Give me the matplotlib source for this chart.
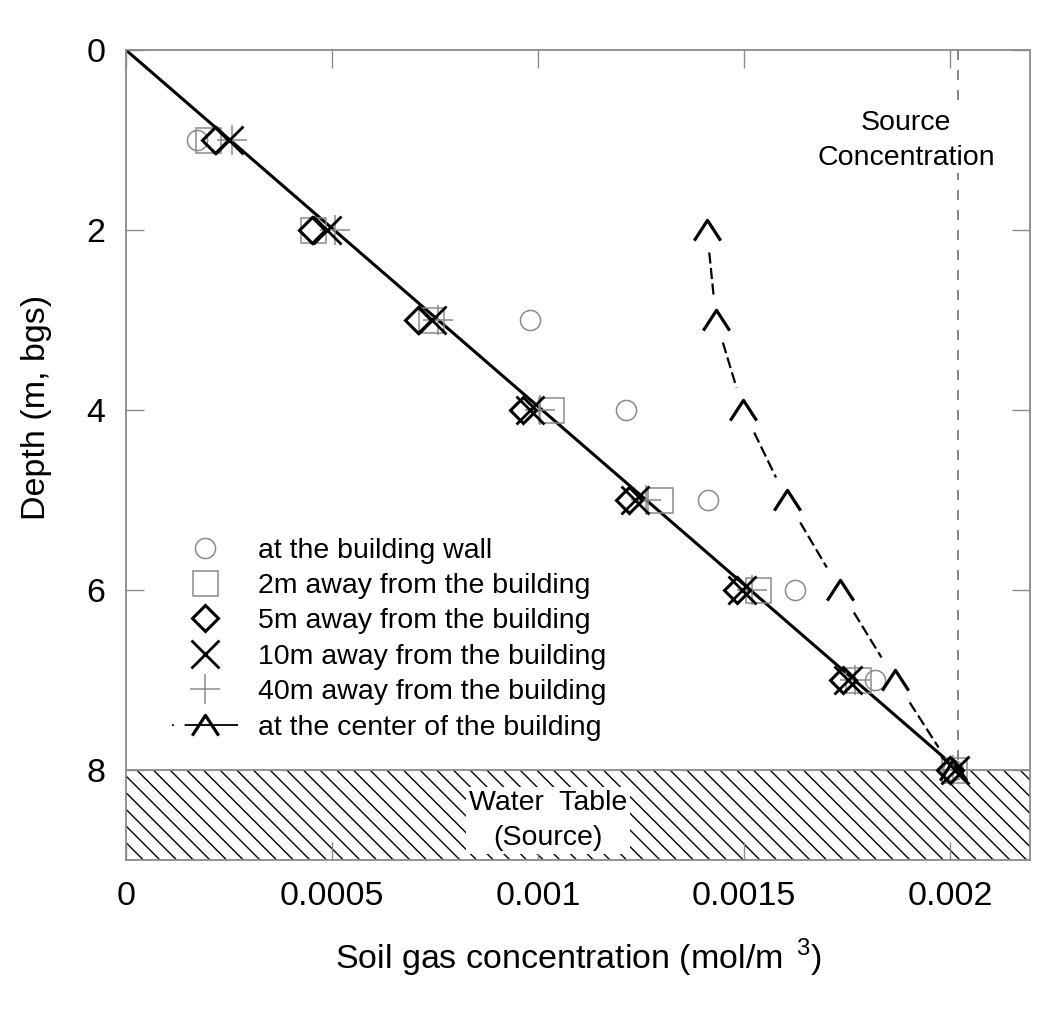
import numpy as np
import matplotlib
matplotlib.use('Agg')
import matplotlib.pyplot as plt
from matplotlib.path import Path

plt.rcParams['font.family'] = ['Liberation Sans', 'DejaVu Sans']
plt.rcParams['mathtext.fontset'] = 'custom'
plt.rcParams['mathtext.rm'] = 'Liberation Sans'
plt.rcParams['hatch.linewidth'] = 1.0

# depth below ground surface (m)
depth = [1, 2, 3, 4, 5, 6, 7, 8]
# soil gas concentration (mol/m3) per location, nan where no point is shown
conc_wall = [0.000172, np.nan, 0.00098, 0.001214, 0.001413, 0.001624, 0.001818, 0.002007]
conc_2m = [0.000199, 0.000454, 0.00074, 0.001032, 0.001296, 0.001534, 0.001777, 0.00201]
conc_5m = [0.000216, 0.000451, 0.000709, 0.000964, 0.001221, 0.001483, 0.00174, 0.002]
conc_10m = [0.00025, 0.000488, 0.000743, 0.00098, 0.001235, 0.001495, 0.001752, 0.002012]
conc_40m = [0.000257, 0.000507, 0.000757, 0.001005, 0.001262, 0.001519, 0.001769, 0.002007]
conc_center = [np.nan, 0.00141, 0.001432, 0.001498, 0.001604, 0.001733, 0.001867, 0.002007]

source_conc = 0.00202
water_table = 8
xticks = [0, 0.0005, 0.001, 0.0015, 0.002]
xticklabels = ['0', '0.0005', '0.001', '0.0015', '0.002']
yticks = [0, 2, 4, 6, 8]

gray = '#8a8a8a'
caret = Path([(-1, -0.77), (0, 0.77), (1, -0.77)],
             [Path.MOVETO, Path.LINETO, Path.LINETO])

fig = plt.figure(figsize=(10.5, 10.09), dpi=100)
ax = fig.add_axes([0.12, 0.1477, 0.861, 0.8027])

# water table band
ax.axhspan(water_table, 9, facecolor='white', edgecolor='black', hatch='\\\\',
           linewidth=0, zorder=0)
ax.axhline(water_table, color=gray, lw=1.3, zorder=1)

# source concentration reference
ax.vlines(source_conc, 0, water_table, colors='#707070', linestyles=(0, (6, 6)),
          lw=1.2, zorder=1)

# analytical profile
ax.plot([0, source_conc], [0, water_table], color='black', lw=2.2, zorder=2)

ax.plot(conc_wall, depth, ls='none', marker='o', ms=14.5, mfc='none', mec=gray,
        mew=1.1, label='at the building wall', zorder=3)
ax.plot(conc_2m, depth, ls='none', marker='s', ms=18, mfc='none', mec=gray,
        mew=1.1, label='2m away from the building', zorder=3)
ax.plot(conc_5m, depth, ls='none', marker='D', ms=13, mfc='none', mec='black',
        mew=2.2, label='5m away from the building', zorder=4)
ax.plot(conc_10m, depth, ls='none', marker='x', ms=20, mec='black',
        mew=2.0, label='10m away from the building', zorder=4)
ax.plot(conc_40m, depth, ls='none', marker='+', ms=22, mec=gray,
        mew=1.1, label='40m away from the building', zorder=3)

# center of building: dashed segments with gaps near the markers
xc = np.array(conc_center)
yc = np.array(depth, dtype=float)
for i in range(len(xc) - 1):
    if np.isnan(xc[i]) or np.isnan(xc[i + 1]):
        continue
    dx, dy = xc[i + 1] - xc[i], yc[i + 1] - yc[i]
    ax.plot([xc[i] + 0.25 * dx, xc[i] + 0.75 * dx],
            [yc[i] + 0.25 * dy, yc[i] + 0.75 * dy],
            color='black', lw=1.6, ls=(0, (5, 2)), zorder=3)
ax.plot(conc_center, depth, ls='none', marker=caret, ms=19, mfc='none',
        mec='black', mew=2.3, zorder=5)
ax.plot([], [], color='black', lw=1.3, ls=(0, (1, 6, 30, 2)), marker=caret, ms=19,
        mfc='none', mec='black', mew=2.3, label='at the center of the building')

ax.text(0.001893, 1.0, 'Source\nConcentration', ha='center', va='center',
        fontsize=20.5, linespacing=1.45,
        bbox=dict(facecolor='white', edgecolor='none', pad=2), zorder=6)
ax.text(0.001024, 8.56, 'Water  Table\n(Source)', ha='center', va='center',
        fontsize=20.5, linespacing=1.45,
        bbox=dict(facecolor='white', edgecolor='none', pad=2), zorder=6)

ax.set_xlim(0, 0.002194)
ax.set_ylim(9, 0)
ax.set_xticks(xticks)
ax.set_xticklabels(xticklabels)
ax.set_yticks(yticks)
for s in ax.spines.values():
    s.set_color(gray)
    s.set_linewidth(1.3)
ax.tick_params(direction='in', length=13, width=1, color=gray,
               top=True, right=True, labelsize=24.5)
ax.tick_params(axis='x', pad=15)
ax.tick_params(axis='y', pad=15)

ax.set_xlabel(r'Soil gas concentration (mol/m$^{\;\;3}$)', fontsize=24.5)
ax.set_ylabel('Depth (m, bgs)', fontsize=24.5)
ax.xaxis.set_label_coords(0.5, -0.095)
ax.yaxis.set_label_coords(-0.082, 0.559)

ax.legend(loc='upper left', bbox_to_anchor=(0.051, 0.398), frameon=False,
          fontsize=20.5, numpoints=1, handlelength=2.3, handletextpad=0.7,
          labelspacing=0.33, borderaxespad=0, borderpad=0)

plt.savefig('out.png', dpi=100)
